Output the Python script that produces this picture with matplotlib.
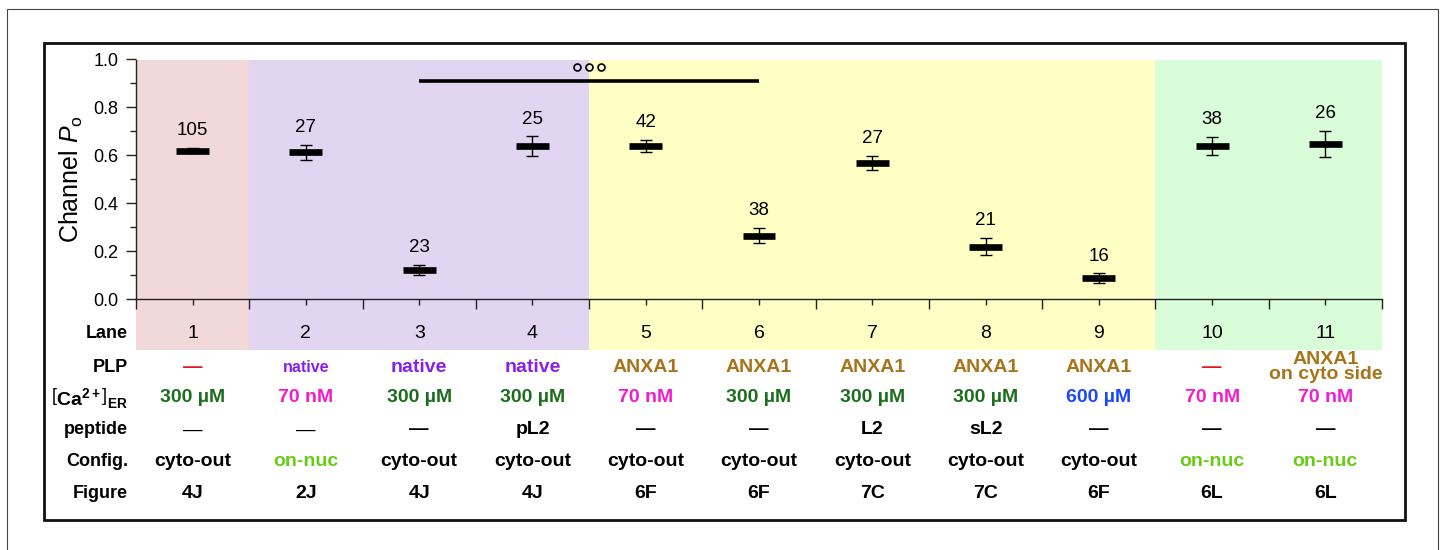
import matplotlib
matplotlib.use('Agg')
import matplotlib.pyplot as plt
from matplotlib.patches import Rectangle
from matplotlib.ticker import MultipleLocator
import matplotlib.transforms as mtransforms

plt.rcParams['font.family'] = ['Liberation Sans', 'DejaVu Sans']
plt.rcParams['mathtext.fontset'] = 'custom'
plt.rcParams['mathtext.rm'] = 'Liberation Sans'
plt.rcParams['mathtext.it'] = 'Liberation Sans:italic'
plt.rcParams['mathtext.bf'] = 'Liberation Sans:bold'

# ---- data ----
lanes = [1, 2, 3, 4, 5, 6, 7, 8, 9, 10, 11]
po_mean = [0.62, 0.612, 0.121, 0.637, 0.640, 0.265, 0.569, 0.219, 0.087, 0.640, 0.647]
po_sem = [0.011, 0.033, 0.021, 0.042, 0.025, 0.032, 0.029, 0.036, 0.020, 0.038, 0.053]
n_records = [105, 27, 23, 25, 42, 38, 27, 21, 16, 38, 26]
lane_group = ['ctrl', 'native', 'native', 'native', 'anxa', 'anxa', 'anxa', 'anxa', 'anxa', 'onnuc', 'onnuc']

plp = ['—', 'native', 'native', 'native', 'ANXA1', 'ANXA1', 'ANXA1', 'ANXA1', 'ANXA1', '—',
       'ANXA1\non cyto side']
ca_er = ['300 µM', '70 nM', '300 µM', '300 µM', '70 nM', '300 µM', '300 µM', '300 µM', '600 µM',
         '70 nM', '70 nM']
peptide = ['—', '—', '—', 'pL2', '—', '—', 'L2', 'sL2', '—', '—', '—']
config = ['cyto-out', 'on-nuc', 'cyto-out', 'cyto-out', 'cyto-out', 'cyto-out', 'cyto-out',
          'cyto-out', 'cyto-out', 'on-nuc', 'on-nuc']
figure_ref = ['4J', '2J', '4J', '4J', '6F', '6F', '7C', '7C', '6F', '6L', '6L']

sig_pair = (3, 6)   # significance bar between lanes 3 and 6
sig_level = 0.912

# ---- colours ----
band_colors = {'ctrl': '#f2d9d9', 'native': '#e1d5f2', 'anxa': '#ffffc5', 'onnuc': '#d9fcd9'}
plp_colors = {'—': '#e8141c', 'native': '#8a1fe6', 'ANXA1': '#a8741a', 'ANXA1\non cyto side': '#a8741a'}
ca_colors = {'300 µM': '#1b6e1b', '70 nM': '#f21ccc', '600 µM': '#1a46ff'}
config_colors = {'cyto-out': 'black', 'on-nuc': '#66cc14'}

W, H = 1444, 550
def fx(x):
    return x / W
def fy(y):
    return 1 - y / H

fig = plt.figure(figsize=(W / 100, H / 100), dpi=100)
ax = fig.add_axes([fx(136), fy(299), fx(1382) - fx(136), fy(59.5) - fy(299)])
ax.set_xlim(0.5, 11.5)
ax.set_ylim(0, 1.0)

# background bands per lane, running down into the "Lane" row
band_bottom = -51 / 239.5
for lane, grp in zip(lanes, lane_group):
    ax.add_patch(Rectangle((lane - 0.5, band_bottom), 1, 1 - band_bottom, facecolor=band_colors[grp],
                           edgecolor='none', clip_on=False, zorder=0))

# mean bars + error bars
ax.errorbar(lanes, po_mean, yerr=po_sem, fmt='none', ecolor='black', elinewidth=1.0,
            capsize=4.6, capthick=1.0, zorder=3)
ax.hlines(po_mean, [l - 0.145 for l in lanes], [l + 0.145 for l in lanes], colors='black',
          lw=4.8, zorder=4)
for lane, m, s, n in zip(lanes, po_mean, po_sem, n_records):
    ax.annotate(str(n), (lane, m + s), xytext=(0, 12.5), textcoords='offset points',
                ha='center', va='center', fontsize=13.5)

# significance bar
ax.plot(sig_pair, [sig_level, sig_level], color='black', lw=2.6, solid_capstyle='butt', zorder=4)
mid = (sig_pair[0] + sig_pair[1]) / 2
ax.plot([mid - 0.106, mid, mid + 0.106], [0.969] * 3, ls='none', marker='o', ms=5,
        mfc='none', mec='black', mew=1.2, zorder=4)

# axes styling
for side in ['top', 'right']:
    ax.spines[side].set_visible(False)
for side in ['left', 'bottom']:
    ax.spines[side].set_linewidth(1.0)
    ax.spines[side].set_color('#222222')
ax.yaxis.set_major_locator(MultipleLocator(0.2))
ax.yaxis.set_minor_locator(MultipleLocator(0.1))
ax.set_yticklabels([f'{v:.1f}' for v in ax.get_yticks()])
ax.set_xticks([l - 0.5 for l in lanes] + [lanes[-1] + 0.5])
ax.set_xticks(lanes, minor=True)
ax.set_xticklabels([])
ax.tick_params(axis='both', which='major', length=7.5, width=1.0, labelsize=13, pad=5,
               color='#222222')
ax.tick_params(axis='both', which='minor', length=4, width=1.0, color='#222222')
ax.tick_params(axis='x', which='both', labelbottom=False)
ax.set_ylabel('Channel $P_{\\mathrm{o}}$', fontsize=18, labelpad=6)

# table under the axis
row_y = {'lane': 334, 'plp': 367, 'ca': 398, 'peptide': 430, 'config': 462, 'figure': 493}
row_labels = {'lane': 'Lane', 'plp': 'PLP',
              'ca': r'$\left[\mathbf{Ca}^{\mathbf{2+}}\right]_{\mathbf{ER}}$',
              'peptide': 'peptide', 'config': 'Config.', 'figure': 'Figure'}
for key, label in row_labels.items():
    fig.text(fx(128), fy(row_y[key]), label, ha='right', va='center', fontsize=13 if key != 'ca' else 14,
             fontweight='bold')

trans = mtransforms.blended_transform_factory(ax.transData, fig.transFigure)
for i, lane in enumerate(lanes):
    ax.text(lane, fy(row_y['lane']), str(lane), transform=trans, ha='center', va='center',
            fontsize=14)
    # PLP
    if plp[i] == 'native' and lane == 2:
        size = 11.5
    elif '\n' in plp[i]:
        size = 14
    else:
        size = 14
    ax.text(lane, fy(row_y['plp']), plp[i], transform=trans, ha='center', va='center',
            fontsize=size, fontweight='bold', color=plp_colors[plp[i]], linespacing=0.8)
    ax.text(lane, fy(row_y['ca']), ca_er[i], transform=trans, ha='center', va='center',
            fontsize=14, fontweight='bold', color=ca_colors[ca_er[i]])
    ax.text(lane, fy(row_y['peptide']), peptide[i], transform=trans, ha='center', va='center',
            fontsize=14, fontweight='normal' if lane <= 2 else 'bold', color='black')
    ax.text(lane, fy(row_y['config']), config[i], transform=trans, ha='center', va='center',
            fontsize=14, fontweight='bold', color=config_colors[config[i]])
    ax.text(lane, fy(row_y['figure']), figure_ref[i], transform=trans, ha='center', va='center',
            fontsize=14, fontweight='bold')

# frames
fig.add_artist(Rectangle((fx(44), fy(520)), fx(1405) - fx(44), fy(43) - fy(520), fill=False,
                         lw=2.0, ec='#111111', transform=fig.transFigure))
fig.add_artist(Rectangle((fx(7), fy(600)), fx(1438) - fx(7), fy(9) - fy(600), fill=False,
                         lw=0.8, ec='#444444', transform=fig.transFigure))

fig.savefig('out.png', dpi=100)
